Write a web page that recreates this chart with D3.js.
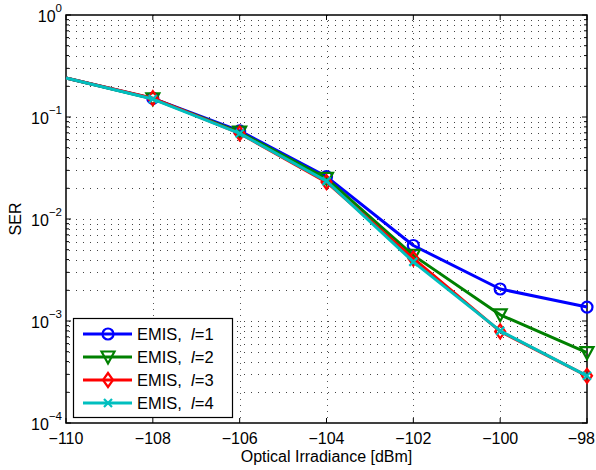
<!DOCTYPE html>
<html>
<head>
<meta charset="utf-8">
<script src="https://cdn.jsdelivr.net/npm/d3@7"></script>
<style>
  body { margin: 0; background: #fff; }
  svg { font-family: "Liberation Sans", Arial, sans-serif; }
</style>
</head>
<body>
<div id="chart"></div>
<script>
// x positions (optical irradiance, dBm)
var irradiance = [-110, -108, -106, -104, -102, -100, -98];
// SER for each number of layers l
var serL1 = [0.241, 0.152, 0.073, 0.026, 0.0055, 0.00206, 0.00137];
var serL2 = [0.241, 0.151, 0.071, 0.025, 0.0044, 0.00115, 0.00049];
var serL3 = [0.241, 0.153, 0.069, 0.023, 0.0041, 0.00079, 0.00029];
var serL4 = [0.241, 0.150, 0.069, 0.0235, 0.0038, 0.00080, 0.00029];
var seriesNames = ["l=1", "l=2", "l=3", "l=4"];
var xTicks = [-110, -108, -106, -104, -102, -100, -98];
var yDecades = [0, -1, -2, -3, -4];

var W = 596, H = 470;
var margin = {left: 66, right: 9, top: 15, bottom: 47};

var svg = d3.select("#chart").append("svg")
    .attr("width", W)
    .attr("height", H);

var x = d3.scaleLinear().domain([-110, -98]).range([margin.left, W - margin.right]);
var y = d3.scaleLog().domain([1e-4, 1]).range([H - margin.bottom, margin.top]);

var x0 = x.range()[0], x1 = x.range()[1], yb = y.range()[0], yt = y.range()[1];

//dotted grid: major x, and all log minors on y
var grid = svg.append("g").attr("stroke-width", 1)
    .attr("shape-rendering", "crispEdges");
xTicks.slice(1, -1).forEach(function (t) {
    grid.append("line").attr("x1", Math.round(x(t)) + 0.5).attr("x2", Math.round(x(t)) + 0.5)
        .attr("y1", yt).attr("y2", yb).attr("stroke", "#555").attr("stroke-dasharray", "1,5");
});
var minorVals = [];
for (var d = -4; d < 0; d++) {
    for (var m = 1; m <= 9; m++) {
        minorVals.push(m * Math.pow(10, d));
    }
}
minorVals.forEach(function (v) {
    if (v <= 1e-4) return;
    var yy = Math.round(y(v)) + 0.5;
    grid.append("line").attr("x1", x0 + 3).attr("x2", x1).attr("y1", yy).attr("y2", yy)
        .attr("stroke", "#444").attr("stroke-dasharray", "1,6");
});

//box
svg.append("rect").attr("x", x0).attr("y", yt).attr("width", x1 - x0).attr("height", yb - yt)
    .attr("fill", "none").attr("stroke", "#000").attr("stroke-width", 1.5);

//ticks inside the box
var ticks = svg.append("g").attr("stroke", "#000").attr("stroke-width", 1);
xTicks.forEach(function (t) {
    var xx = x(t);
    ticks.append("line").attr("x1", xx).attr("x2", xx).attr("y1", yb).attr("y2", yb - 5);
    ticks.append("line").attr("x1", xx).attr("x2", xx).attr("y1", yt).attr("y2", yt + 5);
});
minorVals.concat([1]).forEach(function (v) {
    var yy = y(v);
    var len = (Math.abs(Math.log10(v) - Math.round(Math.log10(v))) < 1e-9) ? 5 : 3;
    ticks.append("line").attr("x1", x0).attr("x2", x0 + len).attr("y1", yy).attr("y2", yy);
    ticks.append("line").attr("x1", x1).attr("x2", x1 - len).attr("y1", yy).attr("y2", yy);
});

//x tick labels
svg.append("g").selectAll("text").data(xTicks).enter().append("text")
    .attr("x", function (t, i) { return i == xTicks.length - 1 ? W - 1 : x(t); })
    .attr("y", yb + 21)
    .attr("text-anchor", function (t, i) { return i == xTicks.length - 1 ? "end" : "middle"; })
    .style("font-size", "16px")
    .text(function (t) { return String(t).replace("-", "\u2212"); });

//y tick labels 10^k
var yl = svg.append("g").selectAll("text").data(yDecades).enter().append("text")
    .attr("x", x0 - 4)
    .attr("y", function (k) { return y(Math.pow(10, k)) + 6.5; })
    .attr("text-anchor", "end")
    .style("font-size", "16px");
yl.append("tspan").text("10");
yl.append("tspan").attr("dy", -10).style("font-size", "11.5px")
    .text(function (k) { return String(k).replace("-", "\u2212"); });

//axis titles
svg.append("text").attr("x", (x0 + x1) / 2).attr("y", yb + 39)
    .attr("text-anchor", "middle").style("font-size", "16px")
    .text("Optical Irradiance [dBm]");
svg.append("text").attr("transform", "translate(21," + ((yt + yb) / 2) + ") rotate(-90)")
    .attr("text-anchor", "middle").style("font-size", "16px").text("SER");

//series
var allSeries = [
    {vals: serL1, color: "#0000ff", marker: "circle"},
    {vals: serL2, color: "#008000", marker: "triangle"},
    {vals: serL3, color: "#ff0000", marker: "diamond"},
    {vals: serL4, color: "#00bfbf", marker: "x"}
];

function drawMarker(g, type, cx, cy, color) {
    if (type == "circle") {
        g.append("circle").attr("cx", cx).attr("cy", cy).attr("r", 5.5)
            .attr("fill", "none").attr("stroke", color).attr("stroke-width", 2.2);
    } else if (type == "triangle") {
        g.append("path").attr("d", "M" + (cx - 6.5) + "," + (cy - 5.5) + "L" + (cx + 6.5) + "," + (cy - 5.5) + "L" + cx + "," + (cy + 6.5) + "Z")
            .attr("fill", "none").attr("stroke", color).attr("stroke-width", 2.2);
    } else if (type == "diamond") {
        g.append("path").attr("d", "M" + cx + "," + (cy - 7) + "L" + (cx + 5) + "," + cy + "L" + cx + "," + (cy + 7) + "L" + (cx - 5) + "," + cy + "Z")
            .attr("fill", "none").attr("stroke", color).attr("stroke-width", 2.2);
    } else {
        g.append("path").attr("d", "M" + (cx - 4) + "," + (cy - 4) + "L" + (cx + 4) + "," + (cy + 4) + "M" + (cx - 4) + "," + (cy + 4) + "L" + (cx + 4) + "," + (cy - 4))
            .attr("fill", "none").attr("stroke", color).attr("stroke-width", 2.2);
    }
}

var line = d3.line().x(function (d) { return x(d[0]); }).y(function (d) { return y(d[1]); });

allSeries.forEach(function (s) {
    var pts = irradiance.map(function (v, i) { return [v, s.vals[i]]; });
    var g = svg.append("g");
    g.append("path").attr("d", line(pts)).attr("fill", "none")
        .attr("stroke", s.color).attr("stroke-width", 3).attr("stroke-linejoin", "round");
    pts.slice(1).forEach(function (p) {
        drawMarker(g, s.marker, x(p[0]), y(p[1]), s.color);
    });
});

//legend
var lg = svg.append("g");
lg.append("rect").attr("x", 73.5).attr("y", 318.5).attr("width", 159).attr("height", 99)
    .attr("fill", "#fff").attr("stroke", "#000").attr("stroke-width", 1.2);
allSeries.forEach(function (s, i) {
    var ly = 334 + i * 23;
    lg.append("line").attr("x1", 83).attr("x2", 132).attr("y1", ly).attr("y2", ly)
        .attr("stroke", s.color).attr("stroke-width", 3);
    drawMarker(lg, s.marker, 108, ly, s.color);
    var t = lg.append("text").attr("x", 137).attr("y", ly + 6)
        .style("font-size", "16.5px").style("white-space", "pre");
    t.append("tspan").text("EMIS,  ");
    t.append("tspan").style("font-style", "italic").text("l");
    t.append("tspan").text(seriesNames[i].slice(1));
});
</script>
</body>
</html>
